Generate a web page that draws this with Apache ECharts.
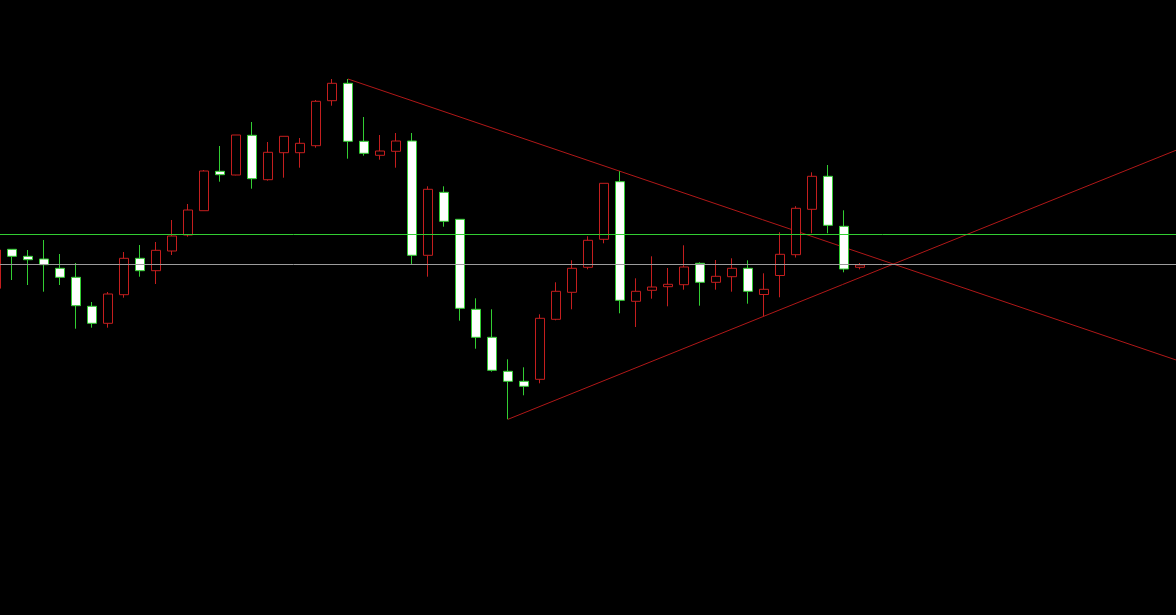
<!DOCTYPE html>
<html>
<head>
<meta charset="utf-8">
<script src="https://cdn.jsdelivr.net/npm/echarts@6/dist/echarts.min.js"></script>
<style>
html,body{margin:0;padding:0;background:#000;}
#chart{width:1176px;height:615px;}
</style>
</head>
<body>
<div id="chart"></div>
<script>
// Bar index labels (one per candle slot; trailing slots are empty future space)
const bars = Array.from({length: 75}, (_, i) => 'B' + i);

// OHLC values: [open, close, low, high]
const opens = [326.7,365.7,358.7,356,346.7,337.7,308.7,291.7,320.3,356.7,344.3,364,380,404.3,443.7,440,479.7,435.3,462.3,462.3,469.3,514.3,531.7,473.7,459.7,463.7,474,359.7,422.7,395.7,305.7,277.7,243.7,233.7,235.7,295.7,322.7,347.7,375.7,433.3,313.7,324.7,328.3,330.3,351.7,332.7,338.3,346.7,320.5,339.5,360.3,405.7,438.7,388.7,347.7];
const closes = [365,358.7,355.3,350.3,337.7,309.3,291.7,321,356.7,344.3,364.7,379,405,444,440.3,480,436.3,462.7,478.7,471.7,513.7,531.7,473.7,461.7,464,474,359.7,425.7,393.7,306.7,277.7,244.7,233.7,228.7,296.7,323.7,346.7,374.7,431.7,314.7,323.7,328,330.7,348,332.7,338.7,346.7,323.7,325.7,360.7,406.7,438.7,389.7,346,350];
const lows = [322,335,330,323.3,330,286.3,287.3,287.3,317.3,338.3,331,360,378.3,404.3,433.3,439.7,426.3,434.3,437.3,447.3,467.3,509.3,456.3,459.3,455.3,447.3,350,338.3,388.3,294.3,266.3,243.3,195.7,219.7,231.7,294.7,305.7,345.7,371.7,301.7,288,316.3,308.7,325.3,309.3,325.3,323.3,311.3,298.8,317.7,357.5,381.7,381.7,342.7,345.7];
const highs = [368,366,365,375,361,352,313,323,363,370,373,395,411,445,469,480,493,473,478.7,477,515,536,536,498,480,482,482,428.7,428.7,395.7,316.7,305.7,255.7,247.7,300.7,332.7,354.7,378.7,431.7,443.7,336.7,358.7,347,369.7,352.7,355,356.7,354.7,341.7,382.7,408.8,442.7,450,404.7,352];

// Horizontal level
const greenLevel = 380.7;

// Trend line anchors (bar indices)
const upperAnchors = [22, 39];   // connects these highs
const lowerAnchors = [32, 48];   // connects these lows

const candleData = opens.map((o, i) => [o, closes[i], lows[i], highs[i]]);

function lineThrough(i1, p1, i2, p2, iEnd) {
  const slope = (p2 - p1) / (i2 - i1);
  return { slope, pts: [[i1, p1], [iEnd, p1 + slope * (iEnd - i1)]] };
}
const xEnd = bars.length;
const upper = lineThrough(upperAnchors[0], highs[upperAnchors[0]], upperAnchors[1], highs[upperAnchors[1]], xEnd);
const lower = lineThrough(lowerAnchors[0], lows[lowerAnchors[0]], lowerAnchors[1], lows[lowerAnchors[1]], xEnd);
// intersection price -> grey level
const ui = upperAnchors[0], up0 = highs[ui];
const li = lowerAnchors[0], lp0 = lows[li];
const ix = (lp0 - up0 + upper.slope * ui - lower.slope * li) / (upper.slope - lower.slope);
const crossLevel = up0 + upper.slope * (ix - ui);

const chart = echarts.init(document.getElementById('chart'), null, {renderer: 'canvas'});
chart.setOption({
  backgroundColor: '#000000',
  animation: false,
  grid: {left: -12, right: -12, top: 0, bottom: 0, containLabel: false, outerBoundsMode: 'none'},
  xAxis: [
    {type: 'category', data: bars, boundaryGap: true, show: false},
    {type: 'value', min: -0.5, max: bars.length - 0.5, show: false}
  ],
  yAxis: {type: 'value', min: 0, max: 615, show: false, splitLine: {show: false}},
  series: [
    {
      type: 'candlestick',
      xAxisIndex: 0,
      data: candleData,
      barWidth: 9,
      itemStyle: {
        color: '#000000',
        color0: '#ffffff',
        borderColor: '#c41e1e',
        borderColor0: '#32cd32',
        borderWidth: 1
      },
      markLine: {
        silent: true,
        symbol: ['none', 'none'],
        label: {show: false},
        animation: false,
        data: [
          {yAxis: greenLevel, lineStyle: {color: '#32cd32', width: 1, type: 'solid'}},
          {yAxis: crossLevel, lineStyle: {color: '#9c9c9c', width: 1, type: 'solid'}}
        ]
      },
      z: 3
    },
    {
      type: 'line', xAxisIndex: 1, data: upper.pts, symbol: 'none',
      lineStyle: {color: '#b01818', width: 1}, silent: true, z: 2
    },
    {
      type: 'line', xAxisIndex: 1, data: lower.pts, symbol: 'none',
      lineStyle: {color: '#b01818', width: 1}, silent: true, z: 2
    }
  ]
});
</script>
</body>
</html>
